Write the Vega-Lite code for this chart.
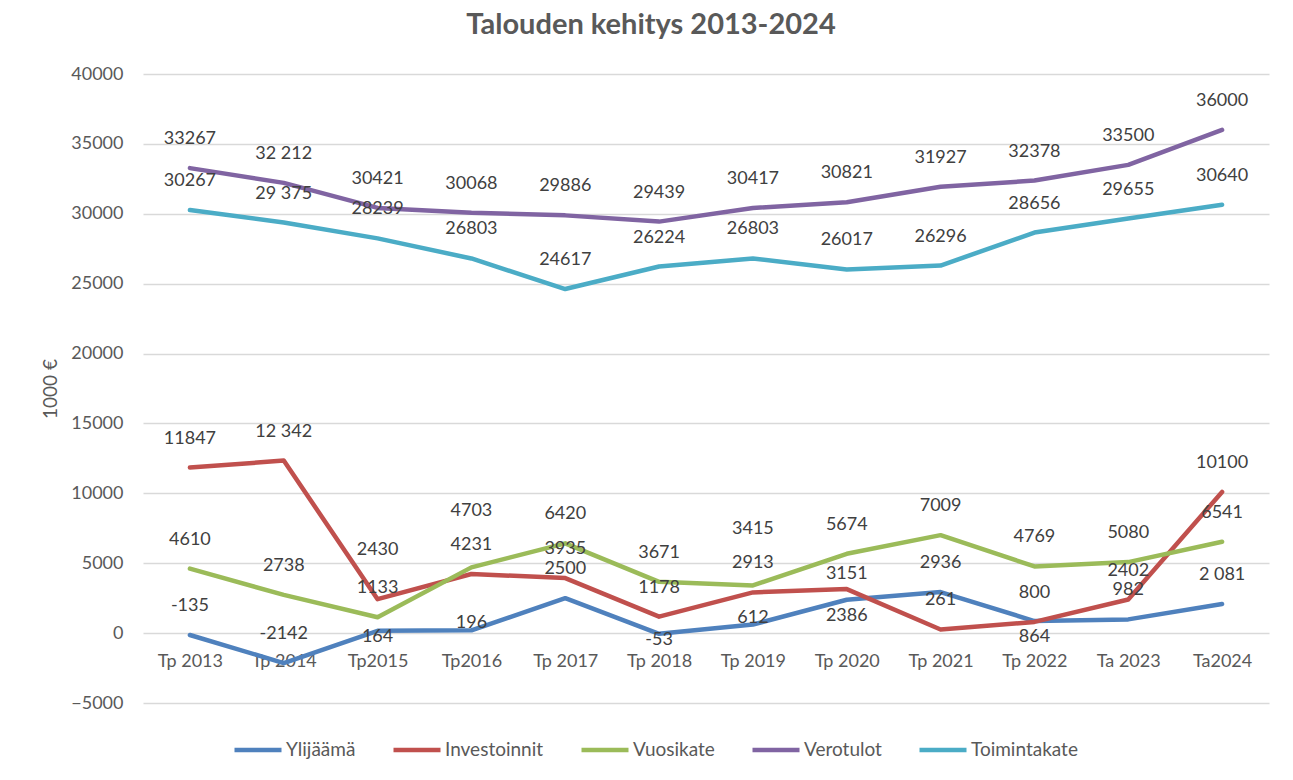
{
  "$schema": "https://vega.github.io/schema/vega-lite/v6.json",
  "width": 1126,
  "height": 629,
  "autosize": {"type": "none"},
  "padding": {"left": 143, "top": 74, "right": 24, "bottom": 77},
  "background": "white",
  "title": {
    "text": "Talouden kehitys 2013-2024",
    "font": "Lato",
    "fontSize": 29,
    "fontWeight": "bold",
    "color": "#595959",
    "anchor": "middle",
    "dx": -55,
    "offset": 25
  },
  "config": {
    "view": {"stroke": null},
    "axis": {"labelFont": "Lato", "titleFont": "Lato", "labelColor": "#595959", "titleColor": "#595959"}
  },
  "data": {
    "values": [
      {"cat": "Tp 2013", "series": "Ylijäämä", "value": -135, "label": "-135"},
      {"cat": "Tp 2014", "series": "Ylijäämä", "value": -2142, "label": "-2142"},
      {"cat": "Tp2015", "series": "Ylijäämä", "value": 164, "label": "164"},
      {"cat": "Tp2016", "series": "Ylijäämä", "value": 196, "label": "196"},
      {"cat": "Tp 2017", "series": "Ylijäämä", "value": 2500, "label": "2500"},
      {"cat": "Tp 2018", "series": "Ylijäämä", "value": -53, "label": "-53"},
      {"cat": "Tp 2019", "series": "Ylijäämä", "value": 612, "label": "612"},
      {"cat": "Tp 2020", "series": "Ylijäämä", "value": 2386, "label": "2386"},
      {"cat": "Tp 2021", "series": "Ylijäämä", "value": 2936, "label": "2936"},
      {"cat": "Tp 2022", "series": "Ylijäämä", "value": 864, "label": "864"},
      {"cat": "Ta 2023", "series": "Ylijäämä", "value": 982, "label": "982"},
      {"cat": "Ta2024", "series": "Ylijäämä", "value": 2081, "label": "2 081"},
      {"cat": "Tp 2013", "series": "Investoinnit", "value": 11847, "label": "11847"},
      {"cat": "Tp 2014", "series": "Investoinnit", "value": 12342, "label": "12 342"},
      {"cat": "Tp2015", "series": "Investoinnit", "value": 2430, "label": "2430"},
      {"cat": "Tp2016", "series": "Investoinnit", "value": 4231, "label": "4231"},
      {"cat": "Tp 2017", "series": "Investoinnit", "value": 3935, "label": "3935"},
      {"cat": "Tp 2018", "series": "Investoinnit", "value": 1178, "label": "1178"},
      {"cat": "Tp 2019", "series": "Investoinnit", "value": 2913, "label": "2913"},
      {"cat": "Tp 2020", "series": "Investoinnit", "value": 3151, "label": "3151"},
      {"cat": "Tp 2021", "series": "Investoinnit", "value": 261, "label": "261"},
      {"cat": "Tp 2022", "series": "Investoinnit", "value": 800, "label": "800"},
      {"cat": "Ta 2023", "series": "Investoinnit", "value": 2402, "label": "2402"},
      {"cat": "Ta2024", "series": "Investoinnit", "value": 10100, "label": "10100"},
      {"cat": "Tp 2013", "series": "Vuosikate", "value": 4610, "label": "4610"},
      {"cat": "Tp 2014", "series": "Vuosikate", "value": 2738, "label": "2738"},
      {"cat": "Tp2015", "series": "Vuosikate", "value": 1133, "label": "1133"},
      {"cat": "Tp2016", "series": "Vuosikate", "value": 4703, "label": "4703"},
      {"cat": "Tp 2017", "series": "Vuosikate", "value": 6420, "label": "6420"},
      {"cat": "Tp 2018", "series": "Vuosikate", "value": 3671, "label": "3671"},
      {"cat": "Tp 2019", "series": "Vuosikate", "value": 3415, "label": "3415"},
      {"cat": "Tp 2020", "series": "Vuosikate", "value": 5674, "label": "5674"},
      {"cat": "Tp 2021", "series": "Vuosikate", "value": 7009, "label": "7009"},
      {"cat": "Tp 2022", "series": "Vuosikate", "value": 4769, "label": "4769"},
      {"cat": "Ta 2023", "series": "Vuosikate", "value": 5080, "label": "5080"},
      {"cat": "Ta2024", "series": "Vuosikate", "value": 6541, "label": "6541"},
      {"cat": "Tp 2013", "series": "Verotulot", "value": 33267, "label": "33267"},
      {"cat": "Tp 2014", "series": "Verotulot", "value": 32212, "label": "32 212"},
      {"cat": "Tp2015", "series": "Verotulot", "value": 30421, "label": "30421"},
      {"cat": "Tp2016", "series": "Verotulot", "value": 30068, "label": "30068"},
      {"cat": "Tp 2017", "series": "Verotulot", "value": 29886, "label": "29886"},
      {"cat": "Tp 2018", "series": "Verotulot", "value": 29439, "label": "29439"},
      {"cat": "Tp 2019", "series": "Verotulot", "value": 30417, "label": "30417"},
      {"cat": "Tp 2020", "series": "Verotulot", "value": 30821, "label": "30821"},
      {"cat": "Tp 2021", "series": "Verotulot", "value": 31927, "label": "31927"},
      {"cat": "Tp 2022", "series": "Verotulot", "value": 32378, "label": "32378"},
      {"cat": "Ta 2023", "series": "Verotulot", "value": 33500, "label": "33500"},
      {"cat": "Ta2024", "series": "Verotulot", "value": 36000, "label": "36000"},
      {"cat": "Tp 2013", "series": "Toimintakate", "value": 30267, "label": "30267"},
      {"cat": "Tp 2014", "series": "Toimintakate", "value": 29375, "label": "29 375"},
      {"cat": "Tp2015", "series": "Toimintakate", "value": 28239, "label": "28239"},
      {"cat": "Tp2016", "series": "Toimintakate", "value": 26803, "label": "26803"},
      {"cat": "Tp 2017", "series": "Toimintakate", "value": 24617, "label": "24617"},
      {"cat": "Tp 2018", "series": "Toimintakate", "value": 26224, "label": "26224"},
      {"cat": "Tp 2019", "series": "Toimintakate", "value": 26803, "label": "26803"},
      {"cat": "Tp 2020", "series": "Toimintakate", "value": 26017, "label": "26017"},
      {"cat": "Tp 2021", "series": "Toimintakate", "value": 26296, "label": "26296"},
      {"cat": "Tp 2022", "series": "Toimintakate", "value": 28656, "label": "28656"},
      {"cat": "Ta 2023", "series": "Toimintakate", "value": 29655, "label": "29655"},
      {"cat": "Ta2024", "series": "Toimintakate", "value": 30640, "label": "30640"}
    ]
  },
  "encoding": {
    "x": {
      "field": "cat",
      "type": "nominal",
      "sort": null,
      "scale": {"type": "point", "padding": 0.5},
      "axis": {
        "title": null,
        "labelAngle": 0,
        "domain": false,
        "ticks": false,
        "grid": false,
        "offset": -70,
        "labelPadding": 19,
        "labelFontSize": 18
      }
    },
    "y": {
      "field": "value",
      "type": "quantitative",
      "scale": {"domain": [-5000, 40000], "nice": false, "zero": false},
      "axis": {
        "title": "1000 €",
        "titleFontSize": 19,
        "titleFontWeight": "normal",
        "titlePadding": 10,
        "values": [-5000, 0, 5000, 10000, 15000, 20000, 25000, 30000, 35000, 40000],
        "format": "d",
        "labelFontSize": 18,
        "labelPadding": 20,
        "domain": false,
        "ticks": false,
        "gridColor": "#d9d9d9",
        "gridWidth": 1.3
      }
    }
  },
  "layer": [
    {
      "mark": {"type": "line", "strokeWidth": 4.5, "strokeCap": "round", "strokeJoin": "round"},
      "encoding": {
        "color": {
          "field": "series",
          "type": "nominal",
          "scale": {
            "domain": ["Ylijäämä", "Investoinnit", "Vuosikate", "Verotulot", "Toimintakate"],
            "range": ["#4F81BD", "#C0504D", "#9BBB59", "#8064A2", "#4BACC6"]
          },
          "legend": {
            "title": null,
            "orient": "none",
            "direction": "horizontal",
            "columns": 5,
            "legendX": 89,
            "legendY": 650,
            "symbolType": "stroke",
            "symbolSize": 2209,
            "symbolStrokeWidth": 4.5,
            "labelFont": "Lato",
            "labelFontSize": 19,
            "labelColor": "#595959",
            "labelOffset": 2,
            "columnPadding": 28
          }
        }
      }
    },
    {
      "transform": [{"filter": "indexof(['Investoinnit|Tp2015','Vuosikate|Tp2016','Vuosikate|Tp 2019','Investoinnit|Tp 2020','Ylijäämä|Tp2015','Ylijäämä|Tp2016','Ylijäämä|Tp 2018','Ylijäämä|Tp 2019','Ylijäämä|Tp 2020','Ylijäämä|Tp 2022'], datum.series + '|' + datum.cat) < 0"}],
      "mark": {"type": "text", "font": "Lato", "fontSize": 18, "color": "#404040", "dy": -29},
      "encoding": {"text": {"field": "label"}}
    },
    {
      "transform": [{"filter": "indexof(['Vuosikate|Tp2016','Vuosikate|Tp 2019'], datum.series + '|' + datum.cat) >= 0"}],
      "mark": {"type": "text", "font": "Lato", "fontSize": 18, "color": "#404040", "dy": -56},
      "encoding": {"text": {"field": "label"}}
    },
    {
      "transform": [{"filter": "indexof(['Investoinnit|Tp2015'], datum.series + '|' + datum.cat) >= 0"}],
      "mark": {"type": "text", "font": "Lato", "fontSize": 18, "color": "#404040", "dy": -49},
      "encoding": {"text": {"field": "label"}}
    },
    {
      "transform": [{"filter": "indexof(['Investoinnit|Tp 2020'], datum.series + '|' + datum.cat) >= 0"}],
      "mark": {"type": "text", "font": "Lato", "fontSize": 18, "color": "#404040", "dy": -15},
      "encoding": {"text": {"field": "label"}}
    },
    {
      "transform": [{"filter": "indexof(['Ylijäämä|Tp2016','Ylijäämä|Tp 2019'], datum.series + '|' + datum.cat) >= 0"}],
      "mark": {"type": "text", "font": "Lato", "fontSize": 18, "color": "#404040", "dy": -7},
      "encoding": {"text": {"field": "label"}}
    },
    {
      "transform": [{"filter": "indexof(['Ylijäämä|Tp2015','Ylijäämä|Tp 2018'], datum.series + '|' + datum.cat) >= 0"}],
      "mark": {"type": "text", "font": "Lato", "fontSize": 18, "color": "#404040", "dy": 6},
      "encoding": {"text": {"field": "label"}}
    },
    {
      "transform": [{"filter": "indexof(['Ylijäämä|Tp 2020','Ylijäämä|Tp 2022'], datum.series + '|' + datum.cat) >= 0"}],
      "mark": {"type": "text", "font": "Lato", "fontSize": 18, "color": "#404040", "dy": 16},
      "encoding": {"text": {"field": "label"}}
    }
  ]
}
